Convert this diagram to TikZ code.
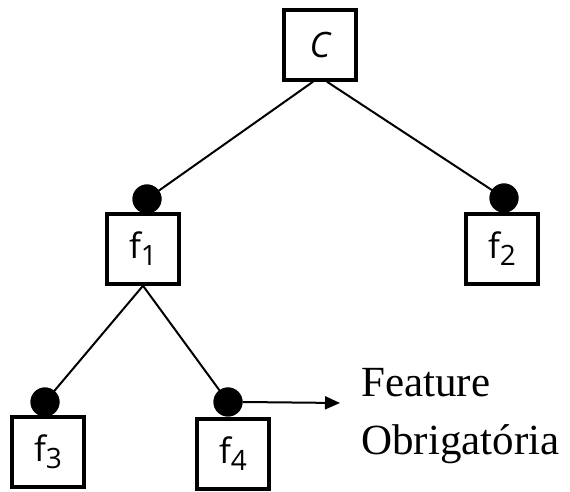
\documentclass[tikz,border=0pt]{standalone}
\usepackage{fontspec}
\setmainfont{Liberation Serif}
\newfontfamily\boxfont{Open Sans}
\usetikzlibrary{arrows.meta}

\tikzset{
  feat/.style={draw, line width=3.5pt, minimum width=72pt, minimum height=70pt,
    inner sep=0pt, font=\boxfont\fontsize{35}{35}\selectfont},
  dot/.style={circle, fill=black, minimum size=29pt, inner sep=0pt},
  link/.style={line width=2pt},
  note/.style={font=\fontsize{43}{43}\selectfont, inner sep=0pt, anchor=base west}
}
\newcommand{\fsub}[1]{f\raisebox{-7pt}{\fontsize{28}{28}\selectfont #1}}

\begin{document}
\begin{tikzpicture}[x=1pt, y=1pt]
  \useasboundingbox (0,0) rectangle (570,492);

  % feature boxes
  \node[feat] (C)  at (320,447) {\itshape C};
  \node[feat] (f1) at (143,243) {\fsub{1}};
  \node[feat] (f2) at (502,243) {\fsub{2}};
  \node[feat] (f3) at (48,40)   {\fsub{3}};
  \node[feat] (f4) at (233,38)  {\fsub{4}};

  % mandatory markers
  \node[dot] (d1) at (147,293) {};
  \node[dot] (d2) at (504,294) {};
  \node[dot] (d3) at (45,90)   {};
  \node[dot] (d4) at (228,90)  {};

  % tree edges
  \draw[link] ([xshift=-7pt]C.south) -- (d1.center);
  \draw[link] ([xshift=7pt]C.south)  -- (d2.center);
  \draw[link] (f1.south) -- (d3.center);
  \draw[link] (f1.south) -- (d4.center);

  % redraw markers over edge ends
  \fill (d1) circle (14.5pt);
  \fill (d2) circle (14.5pt);
  \fill (d3) circle (14.5pt);
  \fill (d4) circle (14.5pt);

  % legend
  \coordinate (tip) at (340,89);
  \draw[link, -{Triangle[length=15pt, width=13pt]}] (d4.east) -- (tip);
  \node[note] (l1) at (361,95) {Feature};
  \node[note] (l2) at (361,37) {Obrigatória};
\end{tikzpicture}
\end{document}
